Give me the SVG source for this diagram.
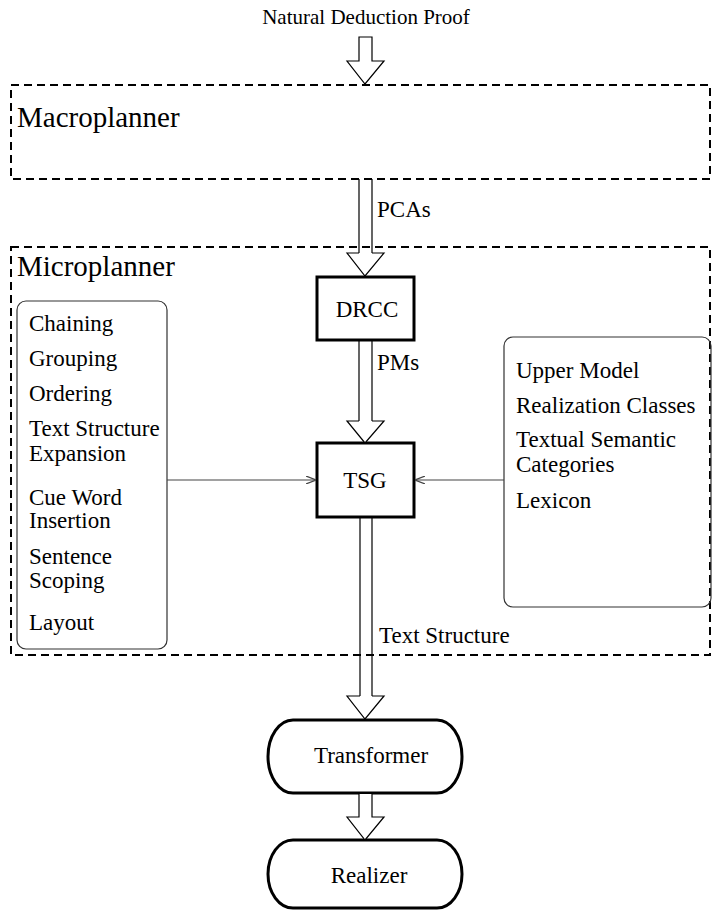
<svg xmlns="http://www.w3.org/2000/svg" width="712" height="911" viewBox="0 0 712 911">
<defs>
<style>
text{font-family:"Liberation Serif","Times New Roman",serif;fill:#000}
.big{font-size:29px}
.t{font-size:23px}
.dash{fill:none;stroke:#000;stroke-width:2;stroke-dasharray:8 5}
.bold{fill:#fff;stroke:#000;stroke-width:3}
.rbox{fill:none;stroke:#333;stroke-width:1.2}
.shaft{stroke:#000;stroke-width:1.2;fill:none}
.head{fill:#fff;stroke:#000;stroke-width:1.2;stroke-linejoin:miter}
.thin{stroke:#444;stroke-width:1.2;fill:none}
</style>
<marker id="v" viewBox="0 0 10 8" refX="10" refY="4" markerWidth="10" markerHeight="8" markerUnits="userSpaceOnUse" orient="auto">
<path d="M0,0 L10,4 L0,8" fill="none" stroke="#444" stroke-width="1.2"/>
</marker>
</defs>
<rect width="712" height="911" fill="#fff"/>
<text class="t" x="366" y="24" text-anchor="middle" style="font-size:21px">Natural Deduction Proof</text>
<g id="macroplanner">
<rect class="dash" x="11" y="85" width="699" height="94"/>
<text class="big" x="17" y="127">Macroplanner</text>
</g>
<g id="microplanner">
<rect class="dash" x="11" y="247" width="699" height="408"/>
<text class="big" x="17" y="276">Microplanner</text>
</g>
<g id="tasks">
<rect class="rbox" x="17" y="301" width="150" height="348" rx="9"/>
<text class="t" x="29" y="331">Chaining</text>
<text class="t" x="29" y="366">Grouping</text>
<text class="t" x="29" y="401">Ordering</text>
<text class="t" x="29" y="436">Text Structure</text>
<text class="t" x="29" y="461">Expansion</text>
<text class="t" x="29" y="505">Cue Word</text>
<text class="t" x="29" y="528">Insertion</text>
<text class="t" x="29" y="564">Sentence</text>
<text class="t" x="29" y="588">Scoping</text>
<text class="t" x="29" y="630">Layout</text>
</g>
<g id="resources">
<rect class="rbox" x="504" y="337" width="207" height="270" rx="9"/>
<text class="t" x="516" y="378">Upper Model</text>
<text class="t" x="516" y="413">Realization Classes</text>
<text class="t" x="516" y="447">Textual Semantic</text>
<text class="t" x="516" y="472">Categories</text>
<text class="t" x="516" y="508">Lexicon</text>
</g>
<g id="drcc">
<rect class="bold" x="317" y="277" width="97" height="63"/>
<text class="t" x="367" y="317" text-anchor="middle">DRCC</text>
</g>
<g id="tsg">
<rect class="bold" x="317" y="443" width="97" height="74"/>
<text class="t" x="365" y="488" text-anchor="middle">TSG</text>
</g>
<g id="transformer">
<path class="bold" d="M293,720 H437 A25,36.5 0 0 1 437,793 H293 A25,36.5 0 0 1 293,720 Z"/>
<text class="t" x="371" y="763" text-anchor="middle">Transformer</text>
</g>
<g id="realizer">
<path class="bold" d="M293,840 H437 A25,34 0 0 1 437,908 H293 A25,34 0 0 1 293,840 Z"/>
<text class="t" x="369" y="883" text-anchor="middle">Realizer</text>
</g>
<g id="connectors">
<path class="head" d="M359,37 V61 H347 L365,84 L384,61 H372 V37 Z"/>
<path class="shaft" d="M359,179 V253 M372,179 V253"/>
<path class="head" d="M359,253 H347 L365,276 L384,253 H372"/>
<text class="t" x="377" y="217">PCAs</text>
<path class="shaft" d="M359,341 V421 M372,341 V421"/>
<path class="head" d="M359,421 H347 L365,443 L384,421 H372"/>
<text class="t" x="377" y="370">PMs</text>
<path class="shaft" d="M360,518 V696 M372,518 V696"/>
<path class="head" d="M360,696 H347 L365,719 L384,696 H372"/>
<text class="t" x="379" y="643">Text Structure</text>
<path class="head" d="M359,794 V817 H347 L365,840 L384,817 H372 V794"/>
<line class="thin" x1="167" y1="480" x2="316" y2="480" marker-end="url(#v)"/>
<line class="thin" x1="504" y1="480" x2="415" y2="480" marker-end="url(#v)"/>
</g>
</svg>
